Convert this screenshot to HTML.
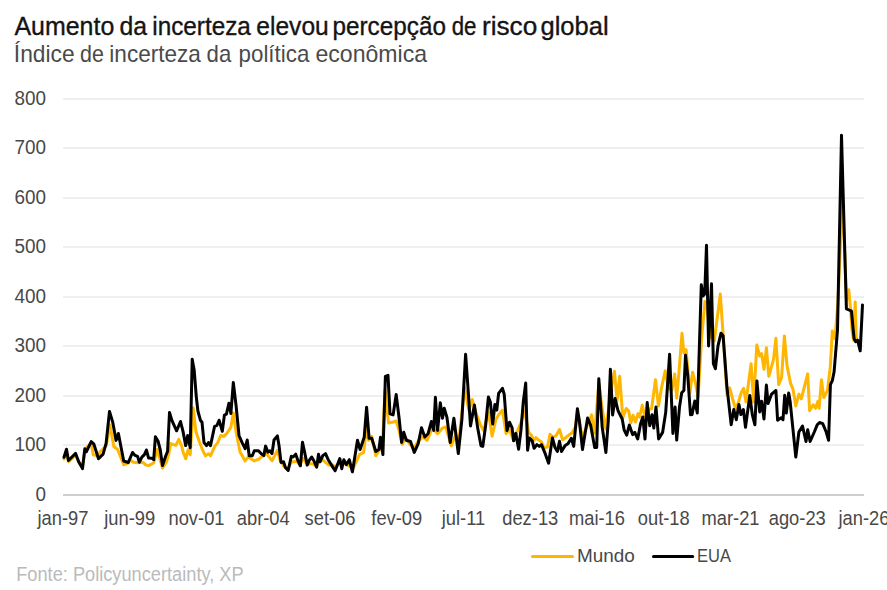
<!DOCTYPE html>
<html lang="pt"><head><meta charset="utf-8"><title>Aumento da incerteza elevou percepção de risco global</title>
<style>
html,body{margin:0;padding:0;background:#fff;}
body{width:887px;height:590px;overflow:hidden;}
svg{display:block;}
text{font-family:'Liberation Sans', Arial, sans-serif;}
</style></head><body>
<svg width="887" height="590" viewBox="0 0 887 590">
<rect width="887" height="590" fill="#fff"/>
<g font-size="25.5" fill="#141414" stroke="#141414" stroke-width="0.35">
<text x="14.5" y="35" textLength="99.76" lengthAdjust="spacingAndGlyphs">Aumento</text>
<text x="119.43" y="35" textLength="27.56" lengthAdjust="spacingAndGlyphs">da</text>
<text x="152.25" y="35" textLength="98.66" lengthAdjust="spacingAndGlyphs">incerteza</text>
<text x="256.34" y="35" textLength="72.38" lengthAdjust="spacingAndGlyphs">elevou</text>
<text x="332.55" y="35" textLength="113.34" lengthAdjust="spacingAndGlyphs">percepção</text>
<text x="451.73" y="35" textLength="24.8" lengthAdjust="spacingAndGlyphs">de</text>
<text x="481.97" y="35" textLength="55.29" lengthAdjust="spacingAndGlyphs">risco</text>
<text x="540.5" y="35" textLength="68.06" lengthAdjust="spacingAndGlyphs">global</text>
</g>
<g font-size="24" fill="#4a4a4a">
<text x="13.8" y="62" textLength="60.79" lengthAdjust="spacingAndGlyphs">Índice</text>
<text x="80.11" y="62" textLength="23.82" lengthAdjust="spacingAndGlyphs">de</text>
<text x="109.32" y="62" textLength="91.61" lengthAdjust="spacingAndGlyphs">incerteza</text>
<text x="206.58" y="62" textLength="24.65" lengthAdjust="spacingAndGlyphs">da</text>
<text x="238.57" y="62" textLength="70.77" lengthAdjust="spacingAndGlyphs">política</text>
<text x="315.44" y="62" textLength="111.62" lengthAdjust="spacingAndGlyphs">econômica</text>
</g>
<rect x="63" y="98" width="801" height="2" fill="#efefef"/>
<rect x="63" y="147" width="801" height="2" fill="#efefef"/>
<rect x="63" y="197" width="801" height="2" fill="#efefef"/>
<rect x="63" y="246" width="801" height="2" fill="#efefef"/>
<rect x="63" y="296" width="801" height="2" fill="#efefef"/>
<rect x="63" y="345" width="801" height="2" fill="#efefef"/>
<rect x="63" y="395" width="801" height="2" fill="#efefef"/>
<rect x="63" y="444" width="801" height="2" fill="#efefef"/>
<rect x="63" y="494" width="801" height="2" fill="#cfcfcf"/>
<g font-size="19.5" fill="#484848" text-anchor="end">
<text transform="translate(46 105) scale(0.97 1)">800</text>
<text transform="translate(46 154) scale(0.97 1)">700</text>
<text transform="translate(46 204) scale(0.97 1)">600</text>
<text transform="translate(46 253) scale(0.97 1)">500</text>
<text transform="translate(46 303) scale(0.97 1)">400</text>
<text transform="translate(46 352) scale(0.97 1)">300</text>
<text transform="translate(46 402) scale(0.97 1)">200</text>
<text transform="translate(46 451) scale(0.97 1)">100</text>
<text transform="translate(46 501) scale(0.97 1)">0</text>
</g>
<g font-size="19.5" fill="#484848" text-anchor="middle">
<text transform="translate(63.00 524.7) scale(0.94 1)">jan-97</text>
<text transform="translate(129.75 524.7) scale(0.94 1)">jun-99</text>
<text transform="translate(196.50 524.7) scale(0.94 1)">nov-01</text>
<text transform="translate(263.25 524.7) scale(0.94 1)">abr-04</text>
<text transform="translate(330.00 524.7) scale(0.94 1)">set-06</text>
<text transform="translate(396.75 524.7) scale(0.94 1)">fev-09</text>
<text transform="translate(463.50 524.7) scale(0.94 1)">jul-11</text>
<text transform="translate(530.25 524.7) scale(0.94 1)">dez-13</text>
<text transform="translate(597.00 524.7) scale(0.94 1)">mai-16</text>
<text transform="translate(663.75 524.7) scale(0.94 1)">out-18</text>
<text transform="translate(730.50 524.7) scale(0.94 1)">mar-21</text>
<text transform="translate(797.25 524.7) scale(0.94 1)">ago-23</text>
<text transform="translate(864.00 524.7) scale(0.94 1)">jan-26</text>
</g>
<polyline points="64,459 66.5,451 68.7,461.8 75.6,455 78.7,462 82.5,467 84.8,452 87,447 91.2,443 93.2,454.9 98.5,456 100,451.8 106.1,446 110,425 113.8,446.5 117.6,449.5 123.7,464.8 128.3,463 130,459.7 133.4,462.2 137.6,462.7 142.7,462.2 145.3,464.7 148.6,465.6 153.7,463 157.1,449.5 159.7,458 162.5,468.1 166.4,462.2 169,452.9 170.7,443.6 175.8,445.3 178.8,439.3 181.7,446.1 183,451.7 185.7,458.8 188.1,449.7 190.2,454.8 193.2,408 195.9,431.4 199.3,441.5 202.4,449.7 205.4,455.8 208.5,453.8 210.5,455.8 214.6,446.6 217.7,442.6 220.7,435.5 223.8,436.4 226.8,433.4 230.9,427.3 233.3,413.1 236,431.4 240,451.7 245.1,460.9 248.2,456.8 254.3,460.9 259,459 263.1,455.6 265.8,452.9 268.6,456.3 272,460.7 274.7,455.6 277.4,450.2 280.1,460.3 283.5,465.8 287.5,469.2 291.6,461.7 294.3,461.7 297,461 299.7,465.1 303.1,458.3 305.8,462.4 309.2,463.7 312.6,463.7 316,466.4 318.7,462.4 322.8,459.7 325.5,462.4 328.9,465.1 333,465.1 335,467 340.2,462.7 345.3,463.7 350.4,466.8 353.4,467.8 359.5,454.6 363.6,452.5 366.6,427.1 368.7,440.3 371.7,436.3 375.8,455.6 379.9,449.5 382.5,445.4 385,390.5 388.6,423 393.1,422 396.2,421 399.2,431.2 402.3,444.4 405.3,437.3 409.4,443.6 413.8,448 418.2,441.4 422.6,437 427,440.3 432.5,428.1 437.6,433.7 442.5,428.1 445.8,427 451.3,445.8 455.7,434.8 459,440 464.5,387.4 468.9,410.5 472.2,399.5 476.6,414.9 480.5,425 483.7,430.6 488.4,411.9 492.1,436.2 495.9,419.4 498.6,414.7 502.4,410.1 506.1,433.4 509.8,429.7 513.6,440.8 517.3,431.5 521,422.2 524.4,410.1 528.8,432.6 531.4,435.2 533.9,440.3 535.9,437.7 539,440.3 541.5,442 544.1,447.9 547.5,447 550,434.3 552.5,436.9 555.9,436 559.5,429.5 562.6,439.7 565.2,438 569.4,434.6 572,432.9 575.4,427.1 577.4,412 582.5,437.3 586.6,427.1 591.6,414.9 594.7,433.2 598.8,383.4 602.8,412.9 605.9,429.1 611,390.5 614.4,371.2 617.1,400.7 619.7,376.3 622.8,417.8 626.2,408.5 628.7,411 630.8,422.9 633,415.3 635.5,422 638,413.6 639.7,417 642.3,405.1 644.8,416.1 649.4,409.3 651.6,408.5 655.5,379.7 658.4,405.9 661.9,386.1 665.2,370.7 668.5,388.3 671.8,390.5 674.7,374 676.7,398.2 678.9,372.9 682,333.2 683.9,353.1 686.1,349.7 689.9,392.7 692.6,372.2 695.6,384 698.1,396.8 701.8,335.5 705,301.5 706.9,305 710.6,337 714.3,340.7 720.3,294.1 723.1,334 727,395 729.7,387.8 732.6,399 735.5,408.8 738.5,402 741.4,392.2 743.7,388.4 746,401.9 751.1,363.7 753.6,401.9 756.8,345 759.7,356.1 761.6,353.7 764,369.2 766.4,347.8 768.8,376.3 773.5,359.7 775.9,338.3 778.7,384.6 781.6,377.5 784.4,335.9 787,365.6 790.6,383.4 793,389.3 795.8,405.9 798.9,394.1 801.3,398.8 807.7,373.9 809.6,410.7 813.2,404.8 815.5,408.3 817.9,401.2 819.1,408.3 821.5,379.8 823.8,397.6 827.5,390.5 830.3,366.7 832.3,331.1 834.9,338.7 837.9,303.1 842.5,196.2 846.5,300 848.8,289.8 850.3,306.6 852.1,331 853.6,340.2 855.2,302 856.4,341.7" fill="none" stroke="#ffb600" stroke-width="3" stroke-linejoin="round" stroke-linecap="round"/>
<polyline points="64,457.2 66.5,449.2 68.4,460.5 75.6,453.4 78.7,461.8 82.5,468.6 84.8,448.8 86.3,451.8 91.2,441.6 93.9,444.2 98.5,458.7 103.1,454.1 106.1,443.4 109.5,411.4 112.7,422.1 116.1,440.4 118.4,433.5 123.7,461 128.3,462.5 132.5,452.5 135.1,455.4 137.6,456.3 139.3,462.2 141.9,457.1 144.4,454.6 146.4,450 148.6,458 152,458.3 153.7,459.7 155.4,436.8 158,441 160.2,449.5 162.5,465.6 165.6,456.3 167.6,451.2 169.5,412.5 172,420.7 176.6,430.8 180.5,421.5 183,431.4 185.7,445.6 187.7,435.5 190.2,447.7 192.2,359.2 194.2,370.3 196.3,396.8 197.9,411 200.4,420.2 202,422.2 204,442.6 206.5,445.6 208.5,442.6 210.5,445.6 214.6,426.3 217,425.3 219.1,420.2 222.3,431.4 224.4,415.1 226.4,414.1 228.9,403.3 230.9,413.5 233.3,382.5 236,404.9 239,435.5 242.1,442.6 245.1,448.7 247.2,440 249.2,455.8 252.3,455.8 254.3,450.7 258.4,450.7 261.1,453.6 263.8,455.6 265.6,446.1 267.9,452.2 269.9,450.8 272,453.6 274,440 277.4,435.9 279.1,446.1 281,462.4 283.5,461.7 285.5,467.8 288.2,470.5 291.3,456.3 293,457 295.7,454.2 298.1,461 300.4,465.8 302.5,442.3 304.5,451.5 307.2,465.1 309.2,460.3 311.7,457 314,461 316.7,467.1 318.5,454.2 320.1,461.7 322.8,455.6 325.5,453.6 328.2,459.7 332.3,466.4 335.1,470.8 339.8,458.6 341.8,468.8 343.8,459.7 346.3,464.7 349.3,459.7 352.4,471.9 357.5,440.3 360.1,449.5 364.2,437.3 366.6,407.2 369.1,438.3 371.7,438.3 375.8,451.5 378.9,449.5 380.5,437.3 382.9,454.6 385.4,376.3 388,375.3 390,413.9 393.1,414.9 396.2,394.6 399.2,419 401.6,442.4 403.7,432.2 406.3,440.3 410.5,441.5 414.3,452.4 418.2,443.6 421.5,427.7 424.8,437 428.1,433.7 431.4,421.5 433.7,430.4 435.4,397.3 437.6,430.4 440.3,402.8 442.5,418.2 444.2,408.3 446.9,417.1 450.2,442.5 453.9,418.2 458.3,453.5 461.9,419.3 465.6,354.3 468.3,392 470.5,426 474.4,405 477.7,428.1 481,445.8 482.8,446.4 485.6,425.9 488.4,397 490.3,401.7 492.7,424.1 494.9,404.5 496.8,410.1 498.6,393.3 502.4,388.3 504.2,394.2 507,430.6 509.5,422.2 512.1,427.8 513.6,440.8 515.8,433.4 518.6,449.2 521,429.7 523.3,401.7 525.7,383.1 527.6,450.2 529.4,438 532.2,440.8 534.1,448.3 536.9,444.6 539.3,446.4 541.5,444.6 545.3,453.9 548.6,463.2 552.4,438 555,447.5 557.4,451.5 559.5,441.3 561.5,451.5 565.2,445.4 568.2,443.4 571.3,438.3 573.7,446.4 577.4,408.8 579.4,421 582.5,449.5 587.6,418 590.6,425.1 594.7,447.5 596.7,447.5 598.8,378.7 602.2,427.1 605.9,452.5 608.3,421 610.4,369.2 612.6,414.9 615.1,398.6 618.1,410.8 622.2,419 624.2,430.2 626.7,435.2 629.3,425.1 632.6,434.6 634.8,432.4 637.7,439 640.6,423.6 642.8,417 645,439 647.2,402.6 649.8,425.8 652,414.8 653.8,428 656,407 658.6,439 662.6,432.4 665.7,412.6 669.6,354.2 672.9,433.5 675.1,407 676.7,440.1 679.5,407 681.7,392.7 683.9,390.5 685.5,355.3 687.7,375.1 690.5,414.8 692,414.6 694.8,401 697.3,413 701.3,284.7 703.2,295.9 704.7,294.1 706.5,245.2 708.6,346 711.5,283.8 713.4,363.7 715.4,368.8 718,345.9 721,333.2 723.1,335.7 726.9,386.6 731.2,424.8 733.8,409.5 736.3,419.7 738.9,404.4 740.9,414.6 743.4,409.5 745.5,427.3 749.8,395.5 752.3,414.6 754.9,424.8 756.9,381 759.7,411.9 761.6,401.2 764,419 766.4,385.1 768.1,403.6 771.6,394.1 775.9,390.5 777.6,420.2 781.1,417.8 783,419.7 784.7,395.3 786.3,413.1 788.7,392.9 790.1,401.2 793,429.7 795.8,457 798.9,432 802.5,426.1 806,441.5 807.7,429.7 810.1,441.5 814.3,432 817.2,424.9 819.6,422.5 822.7,423.7 826.2,432 828.6,440.3 830.4,384.6 832.3,380.7 834.1,371.8 837.5,330 841.5,135.2 846.4,308.8 849.1,310 851.5,311.2 853,328 854.1,338.6 855.6,341.7 857.6,340.2 860.2,350.8 862.5,305" fill="none" stroke="#000" stroke-width="3" stroke-linejoin="round" stroke-linecap="round"/>
<line x1="532.5" y1="556.5" x2="572.5" y2="556.5" stroke="#ffb600" stroke-width="3" stroke-linecap="round"/>
<text x="577" y="561.5" font-size="19" fill="#484848" textLength="57.9" lengthAdjust="spacingAndGlyphs">Mundo</text>
<line x1="653.5" y1="556.5" x2="692.7" y2="556.5" stroke="#000" stroke-width="3" stroke-linecap="round"/>
<text x="697.1" y="561.5" font-size="19" fill="#484848" textLength="33.94" lengthAdjust="spacingAndGlyphs">EUA</text>
<text x="16.2" y="581.2" font-size="19.5" fill="#bababa" textLength="227.45" lengthAdjust="spacingAndGlyphs">Fonte: Policyuncertainty, XP</text>
</svg>
</body></html>
